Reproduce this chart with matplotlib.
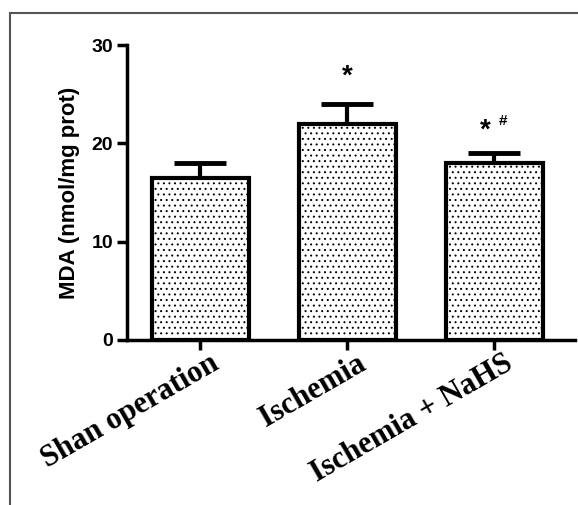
import matplotlib
matplotlib.use("Agg")
import matplotlib.pyplot as plt
from matplotlib.patches import Rectangle
from matplotlib.transforms import ScaledTranslation

categories = ["Shan operation", "Ischemia", "Ischemia + NaHS"]
values = [16.5, 22.0, 18.0]
errors = [1.5, 2.0, 1.0]
annotations = ["", "*", "*"]
sup_annotations = ["", "", "#"]
yticks = [0, 10, 20, 30]

plt.rcParams['hatch.color'] = '#555555'
plt.rcParams['hatch.linewidth'] = 0.7

fig = plt.figure(figsize=(5.78, 5.05), dpi=100)
W, H = 578, 505
ax = fig.add_axes([127 / W, 1 - 340 / H, (575 - 127) / W, (340 - 45) / H])

x = list(range(len(categories)))
bars = ax.bar(x, values, width=0.66, facecolor='white', edgecolor='black',
              linewidth=3, hatch='...', zorder=2)
ax.errorbar(x, values, yerr=[[0] * len(errors), errors], fmt='none',
            ecolor='black', elinewidth=3, capsize=19, capthick=3.5, zorder=1)

for xi, v, e, a, s in zip(x, values, errors, annotations, sup_annotations):
    if a:
        off = 2.8 if not s else 2.3
        xo = 0 if not s else -0.06
        ax.text(xi + xo, v + e + off, a, ha='center', va='center', fontsize=20,
                fontweight='bold', family='Liberation Sans')
    if s:
        ax.text(xi + 0.06, v + e + 3.3, s, ha='center', va='center', fontsize=11,
                fontweight='bold', family='Liberation Sans')

ax.set_xlim(-0.5, 2.55)
ax.set_ylim(0, 30)
ax.set_yticks(yticks)
ax.set_yticklabels([str(t) for t in yticks], fontsize=14, fontweight='bold',
                   family='Liberation Sans')
ax.set_xticks(x)
ax.set_xticklabels([""] * len(categories))
lbl_tr = ax.get_xaxis_transform() + ScaledTranslation(16 / 100, -22 / 100, fig.dpi_scale_trans)
for xi, c in zip(x, categories):
    ax.text(xi, 0, c, transform=lbl_tr, rotation=30, ha='right', va='center',
            rotation_mode='anchor', fontsize=22, fontweight='bold',
            family='Liberation Serif')
ax.set_ylabel("MDA (nmol/mg prot)", fontsize=16, fontweight='bold',
              family='Liberation Sans', labelpad=8)

for side in ['top', 'right']:
    ax.spines[side].set_visible(False)
for side in ['left', 'bottom']:
    ax.spines[side].set_linewidth(2.5)
ax.tick_params(axis='both', width=2.5, length=7, direction='out', pad=3)

fig.patches.append(Rectangle((10 / W, -0.1), 2, 1 - 13 / H + 0.1,
                             transform=fig.transFigure, fill=False,
                             edgecolor='#555555', linewidth=1.5))

fig.savefig("out.png", dpi=100)
